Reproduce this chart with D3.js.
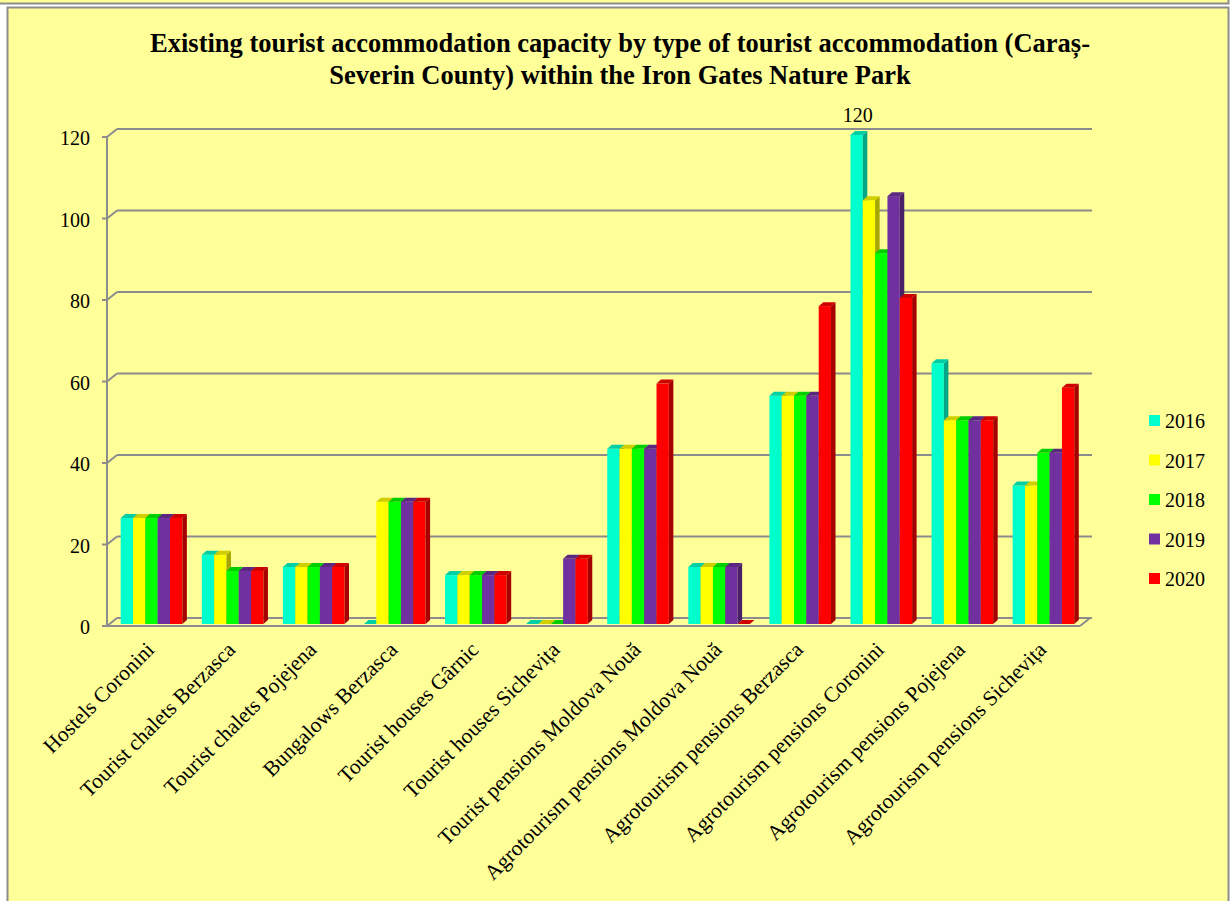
<!DOCTYPE html>
<html>
<head>
<meta charset="utf-8">
<script src="https://cdn.jsdelivr.net/npm/d3@7"></script>
<style>
  html, body { margin: 0; padding: 0; background: #ffffff; }
  svg { display: block; }
  svg text { font-family: "Liberation Serif", "Tinos", "Times New Roman", "DejaVu Serif", serif; }
</style>
</head>
<body>
<svg id="chart" width="1231" height="901"></svg>
<script>
const categories = [
  "Hostels Coronini",
  "Tourist chalets Berzasca",
  "Tourist chalets Pojejena",
  "Bungalows Berzasca",
  "Tourist houses Gârnic",
  "Tourist houses Sichevița",
  "Tourist pensions Moldova Nouă",
  "Agrotourism pensions Moldova Nouă",
  "Agrotourism pensions Berzasca",
  "Agrotourism pensions Coronini",
  "Agrotourism pensions Pojejena",
  "Agrotourism pensions Sichevița"
];
const years = ["2016", "2017", "2018", "2019", "2020"];
const v2016 = [26, 17, 14, 0, 12, 0, 43, 14, 56, 120, 64, 34];
const v2017 = [26, 17, 14, 30, 12, 0, 43, 14, 56, 104, 50, 34];
const v2018 = [26, 13, 14, 30, 12, 0, 43, 14, 56, 91, 50, 42];
const v2019 = [26, 13, 14, 30, 12, 16, 43, 14, 56, 105, 50, 42];
const v2020 = [26, 13, 14, 30, 12, 16, 59, 0, 78, 80, 50, 58];
const yTicks = [0, 20, 40, 60, 80, 100, 120];
const titleLines = [
  "Existing tourist accommodation capacity by type of tourist accommodation (Caraș-",
  "Severin County) within the Iron Gates Nature Park"
];

const seriesValues = [v2016, v2017, v2018, v2019, v2020];
const colors = ["#00FFCC", "#FFFF00", "#00FF00", "#7030A0", "#FF0000"];

const svg = d3.select("#chart");
const BG = "#FFFF99";
const GRID = "#8C8C8C";

// frames
svg.append("rect").attr("x", -5).attr("y", -20).attr("width", 1233.5).attr("height", 23.5)
  .attr("fill", BG).attr("stroke", GRID).attr("stroke-width", 2);
svg.append("rect").attr("x", 7.5).attr("y", 7.5).attr("width", 1221).attr("height", 910)
  .attr("fill", BG).attr("stroke", GRID).attr("stroke-width", 2);

// geometry
const x0 = 107, x1 = 1080;
const depthX = 10, depthY = 8;
const yFront = d3.scaleLinear().domain([0, 120]).range([626, 137]);
const yBack = v => yFront(v) - depthY;

const xBand = d3.scaleBand().domain(categories).range([x0, x1]).paddingInner(0.24).paddingOuter(0.12);
const xInner = d3.scaleBand().domain(years).range([0, xBand.bandwidth()]);

// gridlines on back wall + diagonals + ticks
const g = svg.append("g");
yTicks.forEach(t => {
  g.append("line").attr("x1", x0 + depthX).attr("x2", x1 + depthX + 2)
    .attr("y1", yBack(t)).attr("y2", yBack(t))
    .attr("stroke", GRID).attr("stroke-width", 2);
  g.append("line").attr("x1", x0).attr("y1", yFront(t)).attr("x2", x0 + depthX).attr("y2", yBack(t))
    .attr("stroke", GRID).attr("stroke-width", 2);
  g.append("line").attr("x1", x0 - 5).attr("y1", yFront(t)).attr("x2", x0).attr("y2", yFront(t))
    .attr("stroke", GRID).attr("stroke-width", 2);
});
// vertical axis
g.append("line").attr("x1", x0).attr("x2", x0).attr("y1", yFront(120)).attr("y2", yFront(0))
  .attr("stroke", GRID).attr("stroke-width", 2);
// floor front + right edge
g.append("line").attr("x1", x0).attr("x2", x1).attr("y1", yFront(0)).attr("y2", yFront(0))
  .attr("stroke", GRID).attr("stroke-width", 2);
g.append("line").attr("x1", x1).attr("y1", yFront(0)).attr("x2", x1 + depthX).attr("y2", yBack(0))
  .attr("stroke", GRID).attr("stroke-width", 2);

// y labels
svg.append("g").selectAll("text").data(yTicks).join("text")
  .attr("x", 90).attr("y", d => yFront(d) + 8)
  .attr("text-anchor", "end")
  .attr("font-size", 20).attr("fill", "#000")
  .text(d => d);

// bars
const barOX = 4, barBottomShift = -2;
const bdx = 4.5, bdy = 4;
const barsG = svg.append("g");
const shade = (c, k) => d3.rgb(c).darker(k).formatHex();
categories.forEach((cat, ci) => {
  years.forEach((yr, si) => {
    const v = seriesValues[si][ci];
    const bx = xBand(cat) + xInner(yr) + barOX;
    const w = xInner.bandwidth();
    const yb = yFront(0) + barBottomShift;
    const yt = yFront(v) + barBottomShift;
    const col = colors[si];
    if (v > 0) {
      barsG.append("rect").attr("x", bx).attr("y", yt).attr("width", w).attr("height", yb - yt)
        .attr("fill", col);
      barsG.append("path")
        .attr("d", `M${bx + w},${yt} L${bx + w + bdx},${yt - bdy} L${bx + w + bdx},${yb - bdy} L${bx + w},${yb} Z`)
        .attr("fill", shade(col, 1.2));
    }
    barsG.append("path")
      .attr("d", `M${bx},${yt} L${bx + bdx},${yt - bdy} L${bx + w + bdx},${yt - bdy} L${bx + w},${yt} Z`)
      .attr("fill", shade(col, 0.6));
  });
});

// data label for max
svg.append("text")
  .attr("x", xBand(categories[9]) + xInner("2016") + barOX + xInner.bandwidth() / 2 + 1)
  .attr("y", yFront(v2016[9]) - 15)
  .attr("text-anchor", "middle")
  .attr("font-size", 20).attr("fill", "#000")
  .text(v2016[9]);

// x labels
svg.append("g").selectAll("text").data(categories).join("text")
  .attr("transform", d => `translate(${xBand(d) + xBand.bandwidth() / 2 + 8},651) rotate(-45)`)
  .attr("text-anchor", "end")
  .attr("font-size", 21.5).attr("fill", "#000")
  .text(d => d);

// title
svg.append("g").selectAll("text").data(titleLines).join("text")
  .attr("x", 620).attr("y", (d, i) => 52 + i * 31.5)
  .attr("text-anchor", "middle")
  .attr("font-size", 26.5).attr("font-weight", "bold").attr("fill", "#000")
  .text(d => d);

// legend
const lg = svg.append("g");
years.forEach((yr, i) => {
  const cy = 420.5 + i * 39.5;
  lg.append("rect").attr("x", 1149).attr("y", cy - 5.5).attr("width", 11).attr("height", 11).attr("fill", colors[i]);
  lg.append("text").attr("x", 1165).attr("y", cy + 7.5)
    .attr("font-size", 20).attr("fill", "#000").text(yr);
});
</script>
</body>
</html>
